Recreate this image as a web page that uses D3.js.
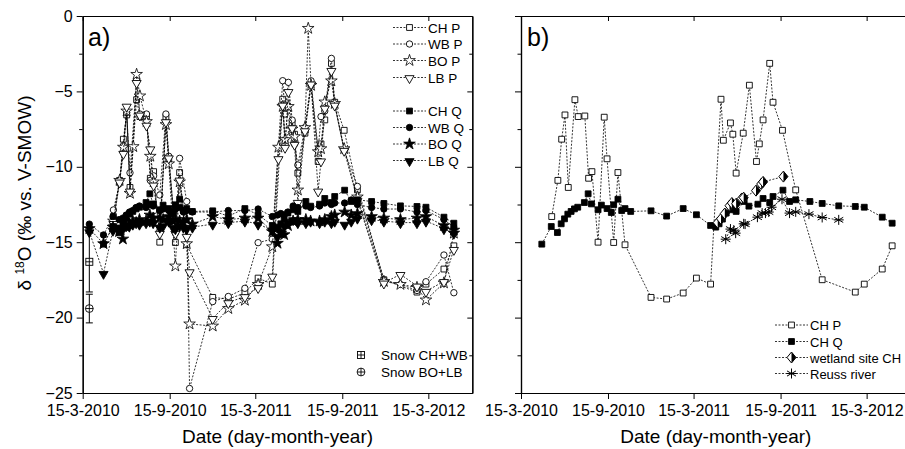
<!DOCTYPE html>
<html lang="en">
<head>
<meta charset="UTF-8"/>
<script src="https://d3js.org/d3.v7.min.js"></script>
<style>
  body { margin: 0; background: #fff; }
  svg text { font-family: "Liberation Sans", Arial, sans-serif; fill: #000; }
</style>
</head>
<body>
<svg id="chart" width="905" height="449"></svg>
<script>
// ---------------- data ----------------
// precipitation sampling dates
var pDates = ["19-5-2010","1-6-2010","9-6-2010","16-6-2010","23-6-2010","30-6-2010","7-7-2010","14-7-2010",
  "28-7-2010","5-8-2010","12-8-2010","25-8-2010","7-9-2010","13-9-2010","27-9-2010","6-10-2010","21-10-2010",
  "27-10-2010","15-12-2010","17-1-2011","21-2-2011","21-3-2011","20-4-2011","3-5-2011","12-5-2011","17-5-2011",
  "24-5-2011","1-6-2011","6-6-2011","13-6-2011","28-6-2011","5-7-2011","11-7-2011","26-7-2011","1-8-2011",
  "9-8-2011","23-8-2011","30-8-2011","19-9-2011","17-10-2011","12-12-2011","16-1-2012","20-2-2012","10-3-2012",
  "17-4-2012","8-5-2012"];
var chP = [-13.3,-10.9,-8.17,-6.56,-11.37,null,-5.55,-6.67,-6.63,-10.76,-10.32,-15.0,-6.71,-9.47,-15.02,-10.38,-15.17,
  null,-18.66,-18.77,-18.37,-17.38,-17.78,null,-5.52,-8.24,null,-7.09,-7.84,-10.42,-7.77,null,-4.59,-9.65,-8.48,
  -6.89,-3.14,-5.72,-7.58,-11.53,-17.49,null,-18.31,-17.78,-16.78,-15.24];
var wbP = [-12.86,-11.1,-8.6,-6.4,-10.4,null,-4.24,-6.5,-6.5,-10.9,-10.6,-11.87,-6.5,-9.3,-14.4,-9.44,-12.3,
  -24.7,-18.94,-18.6,-18.06,-15.03,-14.8,null,-4.29,-6.5,-4.4,-6.9,-8.5,-9.88,-7.4,null,-4.3,-8.9,-6.67,
  -6.3,-2.81,-5.9,-8.9,-11.3,-17.5,-17.8,-18.2,-17.62,-15.85,-18.35];
var boP = [-13.6,-10.9,-8.7,-6.3,-11.76,-8.66,-3.87,-5.3,-7.0,-9.3,-11.0,-14.0,-7.2,-9.8,-16.58,-11.0,-15.1,
  -20.42,-20.56,-19.4,-18.85,-17.8,-15.3,-8.7,-6.0,-8.2,-6.0,-7.5,-8.0,-11.54,-7.4,-0.82,-4.6,-9.0,-8.8,
  -5.7,-4.3,-5.8,-8.8,-12.0,-17.6,-17.8,-18.0,-18.83,-17.7,-14.4];
var lbP = [-13.75,-11.0,-9.1,-5.97,-11.6,null,-4.4,-6.56,-7.23,-8.8,-11.2,-14.4,-7.0,-9.4,-14.4,-10.87,-14.6,
  -16.95,-20.05,-19.0,-18.6,-18.0,-17.24,-9.45,-5.9,-8.7,-5.0,-7.4,-8.5,-12.35,-7.6,null,-4.5,-11.6,-9.6,
  -6.1,-3.6,-5.9,-8.9,-12.2,-17.7,-17.13,-17.9,-18.25,-17.6,-15.47];

// discharge sampling dates
var qDates = ["29-3-2010","28-4-2010","18-5-2010","31-5-2010","8-6-2010","15-6-2010","22-6-2010","29-6-2010",
  "6-7-2010","13-7-2010","27-7-2010","4-8-2010","11-8-2010","25-8-2010","1-9-2010","13-9-2010","22-9-2010",
  "27-9-2010","6-10-2010","14-10-2010","21-10-2010","2-11-2010","15-12-2010","17-1-2011","21-2-2011","21-3-2011",
  "20-4-2011","1-5-2011","8-5-2011","15-5-2011","23-5-2011","3-6-2011","13-6-2011","30-6-2011","10-7-2011",
  "29-7-2011","9-8-2011","23-8-2011","30-8-2011","20-9-2011","4-10-2011","17-10-2011","16-11-2011","12-12-2011",
  "16-1-2012","20-2-2012","10-3-2012","17-4-2012","8-5-2012"];
var chQ = [null,-15.13,-13.96,-14.36,-13.78,-13.45,-13.14,-12.96,-12.79,-12.68,-12.37,-11.79,-12.46,-12.85,-12.54,
  -12.77,-13.03,-12.52,-12.15,-12.9,-12.77,-12.96,-12.92,-13.27,-12.77,-13.18,-13.89,-14.0,-13.78,-13.47,-13.07,
  -12.85,-12.96,-12.3,-12.61,-12.48,-12.1,-12.37,-11.97,-11.55,-12.3,-12.19,-12.3,-12.43,-12.59,-12.63,-12.68,
  -13.34,-13.74];
var wbQ = [-13.8,-14.52,-13.3,-13.5,-13.4,-13.2,-13.0,-12.9,-12.7,-12.6,-12.7,-12.5,-12.6,-12.9,-12.8,
  -12.9,-13.1,-12.8,-12.7,-13.0,-12.9,-13.0,-13.0,-12.9,-12.9,-12.8,-13.3,-13.2,-13.1,-13.2,-13.0,
  -12.6,-12.7,-12.6,-12.7,-12.6,-12.4,-12.5,-12.4,-12.4,-12.2,-12.5,-12.7,-12.8,-12.8,-13.0,-12.9,
  -13.5,-14.0];
var boQ = [-14.1,-15.1,-14.0,-14.3,-14.79,-14.0,-13.8,-13.6,-13.7,-13.5,-13.6,-13.2,-13.4,-13.4,-13.5,
  -13.3,-13.6,-13.5,-13.6,-13.7,-13.5,-13.8,-13.3,-13.5,-13.4,-13.4,-14.3,-15.07,-14.4,-14.5,-13.9,
  -13.6,-13.5,-13.5,-13.6,-13.6,-13.5,-13.3,-13.2,-13.0,-13.2,-13.1,-13.3,-13.4,-13.5,-13.4,-13.3,
  -13.9,-14.2];
var lbQ = [-14.3,-17.06,-14.2,-14.0,-14.1,-13.9,-13.9,-13.8,-13.7,-13.8,-13.7,-13.6,-13.7,-14.0,-13.9,
  -13.6,-14.0,-14.1,-13.9,-14.0,-14.1,-14.0,-13.8,-13.7,-13.6,-13.8,-14.2,-14.6,-14.3,-13.9,-13.7,
  -13.5,-13.7,-13.7,-13.6,-13.7,-13.6,-13.7,-13.6,-13.8,-13.6,-13.4,-13.5,-13.6,-13.7,-13.7,-13.6,
  -14.1,-14.4];

// wetland site CH and Reuss river (panel b)
var wetDates = ["5-5-2011","12-5-2011","20-5-2011","30-5-2011","4-6-2011","13-6-2011","25-6-2011","29-6-2011",
  "25-7-2011","5-8-2011","9-8-2011","21-9-2011"];
var wetValues = [-13.7,-13.45,-13.1,-12.58,-12.4,-12.45,-12.1,-12.05,-11.58,-11.14,-11.0,-10.65];
var reussDates = ["22-5-2011","1-6-2011","8-6-2011","12-6-2011","29-6-2011","2-7-2011","28-7-2011","7-8-2011",
  "14-8-2011","21-8-2011","27-8-2011","18-9-2011","4-10-2011","17-10-2011","14-11-2011","12-12-2011","16-1-2012"];
var reussValues = [-14.8,-14.13,-14.2,-14.4,-13.78,-13.8,-13.34,-13.07,-13.07,-13.0,-12.68,-12.15,-13.07,-12.99,
  -13.14,-13.36,-13.52];

// snow samples (mean and error)
var snowLabels = ["Snow CH+WB", "Snow BO+LB"];
var snowDates = ["29-3-2010", "29-3-2010"];
var snowMean = [-16.3, -19.4];
var snowErr = [2.0, 0.95];

var xTickLabels = ["15-3-2010", "15-9-2010", "15-3-2011", "15-9-2011", "15-3-2012"];
var yTicks = [0, -5, -10, -15, -20, -25];
var yMinorTicks = [-2.5, -7.5, -12.5, -17.5, -22.5];

// ---------------- setup ----------------
var parse = d3.timeParse("%d-%m-%Y");
var fmt = d3.timeFormat("%-d-%-m-%Y");
var svg = d3.select("#chart");
var top_ = 16, bottom = 393;

var y = d3.scaleLinear().domain([-25, 0]).range([bottom, top_]);
var xDomain = [parse("15-3-2010"), parse("16-6-2012")];
var xa = d3.scaleTime().domain(xDomain).range([82.7, 472.3]);
var xb = d3.scaleTime().domain(xDomain).range([521, 910.6]);

function toPoints(dates, vals) {
  var pts = [];
  for (var i = 0; i < dates.length; i++) {
    if (vals[i] != null) pts.push({ d: parse(dates[i]), v: vals[i] });
  }
  return pts;
}

// ---------------- symbols ----------------
var symSquare = d3.symbol(d3.symbolSquare, 34)();
var symCircle = d3.symbol(d3.symbolCircle, 32)();
var symStar = d3.symbol(d3.symbolStar, 42)();
var symTri = d3.symbol(d3.symbolTriangle, 36)();

function drawSymbol(g, type, cx, cy) {
  var s = g.append("g").attr("transform", "translate(" + cx + "," + cy + ")");
  var fill = type.slice(-1) == "F" ? "#000" : "#fff";
  if (type == "sqPlus") {
    s.append("rect").attr("x", -3.5).attr("y", -3.5).attr("width", 7).attr("height", 7)
      .attr("fill", "#fff").attr("stroke", "#000").attr("stroke-width", 0.9);
    s.append("path").attr("d", "M-3.5,0H3.5M0,-3.5V3.5").attr("stroke", "#000").attr("stroke-width", 0.9);
  } else if (type == "ciPlus") {
    s.append("circle").attr("r", 3.9).attr("fill", "#fff").attr("stroke", "#000").attr("stroke-width", 0.9);
    s.append("path").attr("d", "M-3.9,0H3.9M0,-3.9V3.9").attr("stroke", "#000").attr("stroke-width", 0.9);
  } else if (type == "sq" || type == "sqF") {
    s.append("path").attr("d", symSquare).attr("fill", fill).attr("stroke", "#000").attr("stroke-width", 0.9);
  } else if (type == "ci" || type == "ciF") {
    s.append("path").attr("d", symCircle).attr("fill", fill).attr("stroke", "#000").attr("stroke-width", 0.9);
  } else if (type == "st" || type == "stF") {
    s.append("path").attr("d", symStar).attr("fill", fill).attr("stroke", "#000").attr("stroke-width", 0.8);
  } else if (type == "tr" || type == "trF") {
    s.append("path").attr("d", symTri).attr("transform", "rotate(180) translate(0,-0.8)")
      .attr("fill", fill).attr("stroke", "#000").attr("stroke-width", 0.9);
  } else if (type == "dia") {
    s.append("path").attr("d", "M0,-5.5L4.5,0L0,5.5L-4.5,0Z").attr("fill", "#fff").attr("stroke", "#000").attr("stroke-width", 1);
    s.append("path").attr("d", "M0,-5.5L4.5,0L0,5.5Z").attr("fill", "#000");
  } else if (type == "ast") {
    s.append("path").attr("d", "M0,-5V5M-4.5,-2.6L4.5,2.6M-4.5,2.6L4.5,-2.6M-5,0H5")
      .attr("stroke", "#000").attr("stroke-width", 1).attr("fill", "none");
  }
}

function drawSeries(g, x, pts, type) {
  var line = d3.line().x(function(d) { return x(d.d); }).y(function(d) { return y(d.v); });
  g.append("path").datum(pts).attr("d", line)
    .attr("fill", "none").attr("stroke", "#000").attr("stroke-width", 0.8)
    .attr("stroke-dasharray", "2,1.5");
  pts.forEach(function(p) { drawSymbol(g, type, x(p.d), y(p.v)); });
}

function legendRow(g, lx, ly, type, label, dashed, fs) {
  if (dashed) {
    g.append("line").attr("x1", lx).attr("x2", lx + 33).attr("y1", ly).attr("y2", ly)
      .attr("stroke", "#000").attr("stroke-width", 0.8).attr("stroke-dasharray", "2,1.5");
    drawSymbol(g, type, lx + 16.5, ly);
    g.append("text").attr("x", lx + 35).attr("y", ly + 5).style("font-size", fs + "px").text(label);
  } else {
    drawSymbol(g, type, lx, ly);
    g.append("text").attr("x", lx + 20).attr("y", ly + 5).style("font-size", fs + "px").text(label);
  }
}

// ---------------- axes / frame ----------------
function drawFrame(x, showYLabels, showRight) {
  var r = x.range();
  var ticksX = xTickLabels.map(parse);
  var g = svg.append("g");

  var bx = g.append("g").attr("transform", "translate(0," + bottom + ")")
    .call(d3.axisBottom(x).tickValues(ticksX).tickFormat(fmt).tickSize(6).tickSizeOuter(0).tickPadding(6));

  g.append("g").attr("transform", "translate(0," + top_ + ")")
    .call(d3.axisTop(x).tickValues(ticksX).tickFormat("").tickSize(-5).tickSizeOuter(0));

  g.append("g").attr("transform", "translate(" + r[0] + ",0)")
    .call(d3.axisLeft(y).tickValues(yTicks).tickSize(6).tickSizeOuter(0).tickPadding(4)
      .tickFormat(showYLabels ? d3.format("d") : ""));
  g.append("g").attr("transform", "translate(" + r[0] + ",0)")
    .call(d3.axisLeft(y).tickValues(yMinorTicks).tickSize(3.5).tickFormat("").tickSizeOuter(0));

  if (showRight) {
    g.append("g").attr("transform", "translate(" + r[1] + ",0)")
      .call(d3.axisRight(y).tickValues(yTicks).tickSize(-5).tickFormat("").tickSizeOuter(0));
    g.append("g").attr("transform", "translate(" + r[1] + ",0)")
      .call(d3.axisRight(y).tickValues(yMinorTicks).tickSize(-3).tickFormat("").tickSizeOuter(0));
  }
  g.selectAll("g").attr("font-family", null).attr("font-size", null);
  g.selectAll("text").style("font-size", "16px");
  g.selectAll("path.domain").attr("stroke-width", 1.2);
  g.selectAll(".tick line").attr("stroke-width", 1);

  svg.append("text").attr("x", (r[0] + r[1]) / 2).attr("y", 443).attr("text-anchor", "middle")
    .style("font-size", "19px").text("Date (day-month-year)");
}

drawFrame(xa, true, true);
drawFrame(xb, false, false);

// y label
var yl = svg.append("text").attr("transform", "translate(31,193) rotate(-90)")
  .attr("text-anchor", "middle").style("font-size", "19px");
yl.append("tspan").text("δ ");
yl.append("tspan").attr("dy", -7).style("font-size", "12px").text("18");
yl.append("tspan").attr("dy", 7).text("O (‰ vs. V-SMOW)");

// ---------------- panel a ----------------
var ga = svg.append("g");
ga.append("text").attr("x", 88).attr("y", 46).style("font-size", "25px").text("a)");

// snow samples with error bars
for (var i = 0; i < snowMean.length; i++) {
  var sx = xa(parse(snowDates[i]));
  ga.append("line").attr("x1", sx).attr("x2", sx)
    .attr("y1", y(snowMean[i] + snowErr[i])).attr("y2", y(snowMean[i] - snowErr[i]))
    .attr("stroke", "#000").attr("stroke-width", 1);
  [snowMean[i] + snowErr[i], snowMean[i] - snowErr[i]].forEach(function(v) {
    ga.append("line").attr("x1", sx - 3.5).attr("x2", sx + 3.5).attr("y1", y(v)).attr("y2", y(v))
      .attr("stroke", "#000").attr("stroke-width", 1);
  });
}

var aSeries = [
  [pDates, chP, "sq", "CH P"], [pDates, wbP, "ci", "WB P"], [pDates, boP, "st", "BO P"], [pDates, lbP, "tr", "LB P"],
  [qDates, chQ, "sqF", "CH Q"], [qDates, wbQ, "ciF", "WB Q"], [qDates, boQ, "stF", "BO Q"], [qDates, lbQ, "trF", "LB Q"]
];
aSeries.forEach(function(s) { drawSeries(ga, xa, toPoints(s[0], s[1]), s[2]); });

drawSymbol(ga, "sqPlus", xa(parse(snowDates[0])), y(snowMean[0]));
drawSymbol(ga, "ciPlus", xa(parse(snowDates[1])), y(snowMean[1]));

// legend a
var legRowsA = [27.5, 44, 60.5, 77.5, 111, 127.5, 144, 160.5];
aSeries.forEach(function(s, i) { legendRow(ga, 393, legRowsA[i], s[2], s[3], true, 13.5); });
legendRow(ga, 361, 355, "sqPlus", snowLabels[0], false, 13.5);
legendRow(ga, 361, 372, "ciPlus", snowLabels[1], false, 13.5);

// ---------------- panel b ----------------
var gb = svg.append("g");
gb.append("text").attr("x", 527).attr("y", 46).style("font-size", "25px").text("b)");
var bSeries = [
  [pDates, chP, "sq", "CH P"], [qDates, chQ, "sqF", "CH Q"],
  [wetDates, wetValues, "dia", "wetland site CH"], [reussDates, reussValues, "ast", "Reuss river"]
];
bSeries.forEach(function(s) { drawSeries(gb, xb, toPoints(s[0], s[1]), s[2]); });
var legRowsB = [325, 341.5, 357.5, 373.5];
bSeries.forEach(function(s, i) { legendRow(gb, 775, legRowsB[i], s[2], s[3], true, 13); });
</script>
</body>
</html>
